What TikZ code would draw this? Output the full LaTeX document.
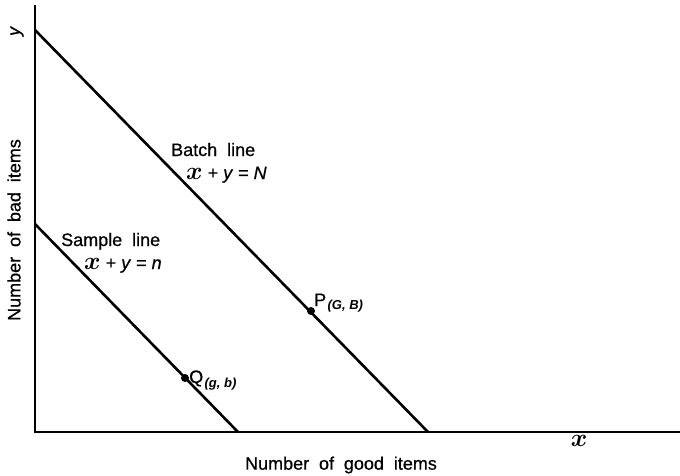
\documentclass[tikz,border=0pt]{standalone}
\usepackage{fontspec}
\setmainfont{Liberation Sans}[UprightFeatures={FakeBold=0.7},ItalicFeatures={FakeBold=0.7}]
\newcommand{\wsp}{\hspace{0.55em}}
\newcommand{\mx}{\scalebox{1.45}{\boldmath$x$}}
\begin{document}
\begin{tikzpicture}[x=1pt,y=-1pt,
  axis/.style={line width=2pt},
  seg/.style={line width=2.6pt},
  lbl/.style={font=\fontsize{18}{20}\selectfont, inner sep=0pt},
  sub/.style={font=\fontsize{13}{15}\selectfont\bfseries\itshape, inner sep=0pt},
  dot/.style={circle, fill=black, inner sep=0pt, minimum size=8pt}]
\useasboundingbox (0,0) rectangle (680,475);
\coordinate (O) at (35,432);
\coordinate (Ytop) at (35,5);
\coordinate (Xend) at (680,432);
\draw[axis] (Ytop) -- (O) -- (Xend);
\coordinate (B1) at (35,30);
\coordinate (B2) at (428,432);
\coordinate (S1) at (35,224);
\coordinate (S2) at (238,432);
\draw[seg] (B1) -- (B2);
\draw[seg] (S1) -- (S2);
\node[dot] (P) at (311,311) {};
\node[dot] (Q) at (185,378) {};
\node[lbl, anchor=base west] (Plbl) at (314,306) {P};
\node[sub, anchor=base west] (Psub) at (Plbl.base east) [yshift=-3pt, xshift=1pt] {(G, B)};
\node[lbl, anchor=base west] (Qlbl) at (189,383) {Q};
\node[sub, anchor=base west] (Qsub) at (Qlbl.base east) [yshift=-4pt, xshift=1pt] {(g, b)};
\node[lbl, anchor=base west] (batch) at (171,156) {Batch\wsp line};
\node[lbl, anchor=base west] (batcheq) at (186,179) {\mx{} + \textit{y} = \textit{N}};
\node[lbl, anchor=base west] (sample) at (61,246) {Sample\wsp line};
\node[lbl, anchor=base west] (sampleq) at (84,269) {\mx{} + \textit{y} = \textit{n}};
\node[lbl, rotate=90] (ylab) at (17,31) {\textit{y}};
\node[lbl, anchor=base] (xlab) at (579,446) {\mx};
\node[lbl, rotate=90] (ylabel) at (14,230) {Number\wsp of\wsp bad\wsp items};
\node[lbl] (xlabel) at (341,465) {Number\wsp of\wsp good\wsp items};
\end{tikzpicture}
\end{document}
